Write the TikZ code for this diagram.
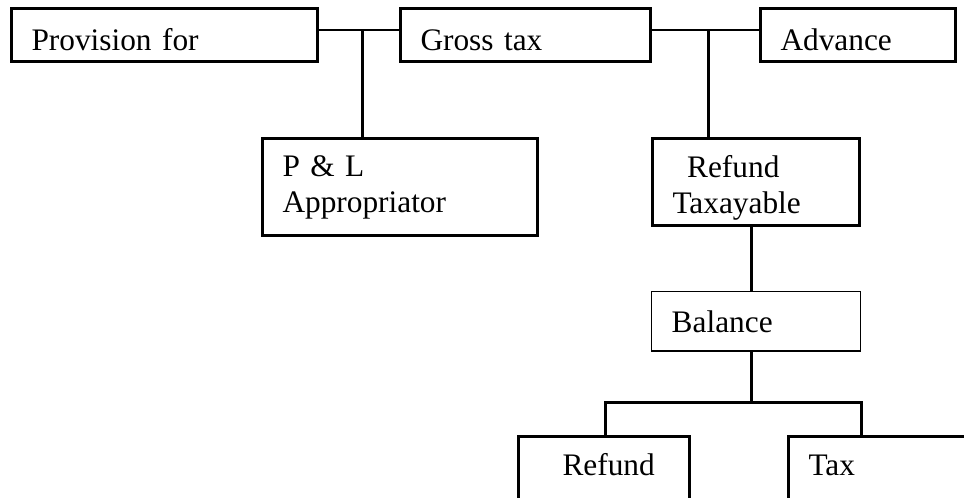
\documentclass[tikz,border=0pt]{standalone}
\usepackage{fontspec}
\setmainfont{Liberation Serif}
\tikzset{
  box/.style={draw, line width=2.25pt, anchor=north west, inner xsep=15pt, inner ysep=0pt,
    align=left, font=\fontsize{23.5pt}{27pt}\selectfont},
  topbox/.style={box, minimum height=39.75pt, text height=22.5pt, text depth=0pt},
  leaf/.style={box, text height=28.9pt, text depth=60pt},
  thin link/.style={line width=1.5pt},
  link/.style={line width=2.25pt}
}
\begin{document}
\begin{tikzpicture}[x=0.75pt, y=-0.75pt]
\useasboundingbox (0,0) rectangle (964,497);
\clip (0,0) rectangle (964,497);
% top row
\node[topbox, text width=199.5pt] (prov) at (10,7) {Provision for};
\node[topbox, text width=157.5pt] (gross) at (399,7) {Gross tax};
\node[topbox, text width=116.25pt] (adv) at (759,7) {Advance};
% second row
\node[box, text width=176.25pt, minimum height=72.75pt] (pl) at (261,137) {P \& L\\Appropriator};
\node[box, text width=125.25pt, minimum height=65.25pt, text height=25pt] (reftax) at (651,137) {\hspace*{11pt}Refund\\Taxayable};
\node[box, line width=1.1pt, text width=126.4pt, minimum height=44.6pt] (bal) at (651,291) {Balance};
% bottom row
\node[leaf, text width=98.25pt] (refund) at (517,435) {\hspace*{18pt}Refund};
\node[leaf, text width=200pt] (tax) at (787,435) {Tax};
% connectors
\coordinate (j1) at (362,30);
\coordinate (j2) at (708,30);
\coordinate (j3) at (751,402);
\coordinate (j4) at (605,402);
\coordinate (j5) at (861,402);
\draw[thin link] (prov.east |- j1) -- (gross.west |- j1);
\draw[thin link] (gross.east |- j2) -- (adv.west |- j2);
\draw[link] (j1) -- (j1 |- pl.north);
\draw[link] (j2) -- (j2 |- reftax.north);
\draw[link] (j3 |- reftax.south) -- (j3 |- bal.north);
\draw[link] (j3 |- bal.south) -- (j3);
\draw[link] (j4 |- refund.north) -- (j4) -- (j5) -- (j5 |- tax.north);
\end{tikzpicture}
\end{document}
